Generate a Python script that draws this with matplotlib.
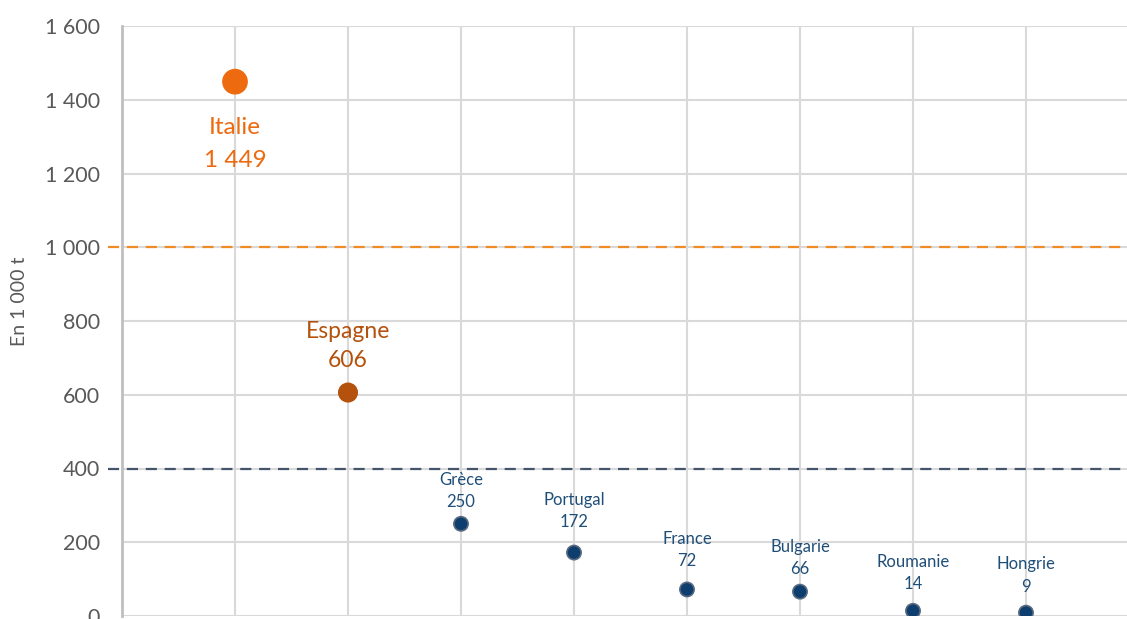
from matplotlib import pyplot as plt

# Production par pays (en milliers de tonnes)
pays = ['Italie', 'Espagne', 'Grèce', 'Portugal', 'France', 'Bulgarie', 'Roumanie', 'Hongrie']
production = [1449, 606, 250, 172, 72, 66, 14, 9]
seuils = [1000, 400]
yticks = [0, 200, 400, 600, 800, 1000, 1200, 1400, 1600]


def fmt(v):
    return '{:,}'.format(v).replace(',', ' ')


# style of each point: fill, edge, size, label colour, label size, label offsets (px)
fills = ['#ee6a0f', '#b4510c'] + ['#0d3e6e'] * 6
edges = ['#ee6a0f', '#b4510c'] + ['#596a80'] * 6
sizes = [300, 175] + [105] * 6
txt_colors = ['#ee6a0f', '#b4510c'] + ['#1f4e79'] * 6
txt_sizes = [17.5, 16.5] + [12] * 6
off_name = [-46, 61, 44, 53, 50, 45, 49, 49]
off_val = [-79, 32, 22, 31, 28, 23, 27, 26]
seuil_colors = ['#f08a24', '#44546a']

plt.rcParams['font.family'] = ['Lato', 'DejaVu Sans']

fig = plt.figure(figsize=(11.27, 6.19), dpi=100)
ax = fig.add_axes([122 / 1127, 3 / 619, 1 - 122 / 1127, 590 / 619])

x = list(range(1, len(pays) + 1))
ax.set_xlim(0, 1005 / 113)
ax.set_ylim(0, 1600)

ax.set_xticks(x)
ax.set_xticklabels([])
ax.set_yticks(yticks)
ax.set_yticklabels([fmt(v) for v in yticks])
ax.tick_params(axis='both', length=0)
ax.tick_params(axis='y', pad=16, labelsize=15.5, labelcolor='#595959')
ax.grid(True, color='#d9d9d9', linewidth=1.5)
ax.set_axisbelow(True)

for s in ['top', 'right', 'bottom']:
    ax.spines[s].set_visible(False)
ax.spines['left'].set_color('#bfbfbf')
ax.spines['left'].set_linewidth(2)
ax.spines['left'].set_zorder(3)

px = 72 / 100
for val, c in zip(seuils, seuil_colors):
    ax.plot([-14 / 113, 1005 / 113], [val, val], color=c, linewidth=1.6,
            linestyle=(0, (5, 3.5)), clip_on=False, zorder=2)

ax.scatter(x, production, s=sizes, c=fills, edgecolors=edges, linewidths=1.2, zorder=4)

for i in range(len(pays)):
    ax.annotate(pays[i], (x[i], production[i]), xytext=(0, off_name[i] * px),
                textcoords='offset points', ha='center', va='center',
                color=txt_colors[i], fontsize=txt_sizes[i], annotation_clip=False)
    ax.annotate(fmt(production[i]), (x[i], production[i]), xytext=(0, off_val[i] * px),
                textcoords='offset points', ha='center', va='center',
                color=txt_colors[i], fontsize=txt_sizes[i], annotation_clip=False)

fig.text(20 / 1127, 1 - 301 / 619, 'En 1 000 t', rotation=90, ha='center', va='center',
         fontsize=14, color='#595959')

fig.savefig('out.png', dpi=100)
